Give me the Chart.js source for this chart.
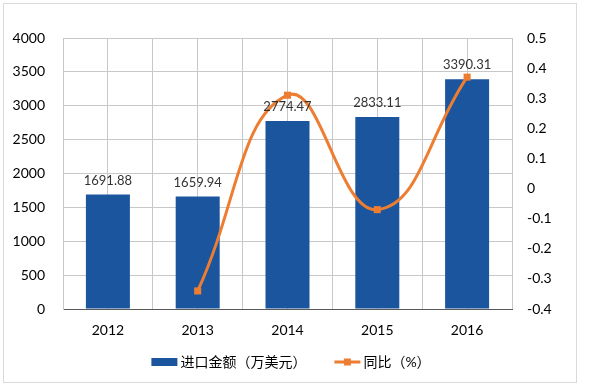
<!DOCTYPE html>
<html>
<head>
<meta charset="utf-8">
<script src="https://cdn.jsdelivr.net/npm/chart.js@4"></script>
<style>
  html, body { margin: 0; padding: 0; background: #fff; }
  #wrap { width: 600px; height: 385px; }
</style>
</head>
<body>
<div id="wrap"><canvas id="myChart" width="600" height="385"></canvas></div>
<script>
const years = ['2012', '2013', '2014', '2015', '2016']
const importValues = [1691.88, 1659.94, 2774.47, 2833.11, 3390.31]
const yoyValues = [null, -0.34, 0.31, -0.07, 0.37]
const seriesNames = ['进口金额（万美元）', '同比（%）']

const BLUE = '#1A559E'
const ORANGE = '#ED7D31'
const GRID = '#c8c8c8'
const FONT = 'Lato, "Noto Sans CJK SC", sans-serif'

// white background and the thin grey frame round the picture
const framePlugin = {
  id: 'frame',
  beforeDraw(chart) {
    const ctx = chart.ctx
    ctx.save()
    ctx.fillStyle = '#fff'
    ctx.fillRect(0, 0, chart.width, chart.height)
    ctx.strokeStyle = '#d9d9d9'
    ctx.lineWidth = 1
    ctx.strokeRect(3.5, 3.5, chart.width - 27, chart.height - 6)
    ctx.restore()
  }
}

// value labels above the bars
const barLabels = {
  id: 'barLabels',
  afterDatasetsDraw(chart) {
    const ctx = chart.ctx
    const meta = chart.getDatasetMeta(0)
    ctx.save()
    ctx.font = '13px ' + FONT
    ctx.fillStyle = '#333'
    ctx.textAlign = 'center'
    ctx.textBaseline = 'middle'
    meta.data.forEach((bar, i) => {
      ctx.fillText(importValues[i].toFixed(2), bar.x, bar.y - 14)
    })
    ctx.restore()
  }
}

// excel style legend under the axis
const bottomLegend = {
  id: 'bottomLegend',
  afterDraw(chart) {
    const ctx = chart.ctx
    ctx.save()
    ctx.font = '14px ' + FONT
    const sw = 26, gap = 3, between = 28
    const widths = seriesNames.map(t => ctx.measureText(t).width)
    const total = widths[0] + widths[1] + 2 * (sw + gap) + between
    let x = 291 - total / 2
    const y = 362

    ctx.fillStyle = BLUE
    ctx.fillRect(x, y - 4, sw, 8)
    ctx.fillStyle = '#000'
    ctx.textBaseline = 'middle'
    ctx.fillText(seriesNames[0], x + sw + gap, y)
    x += sw + gap + widths[0] + between

    ctx.strokeStyle = ORANGE
    ctx.lineWidth = 3
    ctx.beginPath()
    ctx.moveTo(x, y)
    ctx.lineTo(x + sw, y)
    ctx.stroke()
    ctx.fillStyle = ORANGE
    ctx.fillRect(x + sw / 2 - 3.5, y - 3.5, 7, 7)
    ctx.fillStyle = '#000'
    ctx.fillText(seriesNames[1], x + sw + gap, y)
    ctx.restore()
  }
}

var ctx = document.getElementById('myChart').getContext('2d')
var chart = new Chart(ctx, {
  type: 'bar',
  data: {
    labels: years,
    datasets: [{
      type: 'bar',
      label: seriesNames[0],
      data: importValues,
      backgroundColor: BLUE,
      barPercentage: 0.49,
      categoryPercentage: 1,
      yAxisID: 'y',
      order: 1
    }, {
      type: 'line',
      label: seriesNames[1],
      data: yoyValues,
      borderColor: ORANGE,
      borderWidth: 3,
      tension: 0.45,
      pointStyle: 'rect',
      pointRadius: 5,
      pointBackgroundColor: ORANGE,
      pointBorderWidth: 0,
      spanGaps: true,
      yAxisID: 'y1',
      order: 0
    }]
  },
  options: {
    responsive: false,
    animation: false,
    layout: { padding: { top: 38, left: 0, right: 0, bottom: 0 } },
    plugins: {
      legend: { display: false },
      tooltip: { enabled: false }
    },
    scales: {
      x: {
        offset: true,
        grid: { offset: true, color: GRID, drawTicks: false },
        border: { color: '#595959' },
        ticks: { padding: 13, color: '#000', font: { size: 14, family: FONT } },
        afterFit: s => { s.height = 76 }
      },
      x2: {
        type: 'category',
        labels: years,
        offset: true,
        position: 'bottom',
        grid: { offset: false, color: GRID, drawTicks: false },
        border: { display: false },
        ticks: { display: false },
        afterFit: s => { s.height = 0 }
      },
      y: {
        min: 0,
        max: 4000,
        grid: { color: GRID, drawTicks: false },
        border: { color: GRID },
        ticks: {
          stepSize: 500, padding: 18, color: '#000', font: { size: 14, family: FONT },
          callback: v => String(v)
        },
        afterFit: s => { s.width = 63 }
      },
      y1: {
        position: 'right',
        min: -0.4,
        max: 0.5,
        grid: { display: false, drawTicks: false },
        border: { display: false },
        ticks: {
          stepSize: 0.1, padding: 15, color: '#000', font: { size: 14, family: FONT },
          callback: v => String(Math.round(v * 10) / 10)
        },
        afterFit: s => { s.width = 88 }
      }
    }
  },
  plugins: [framePlugin, barLabels, bottomLegend]
})
</script>
</body>
</html>
